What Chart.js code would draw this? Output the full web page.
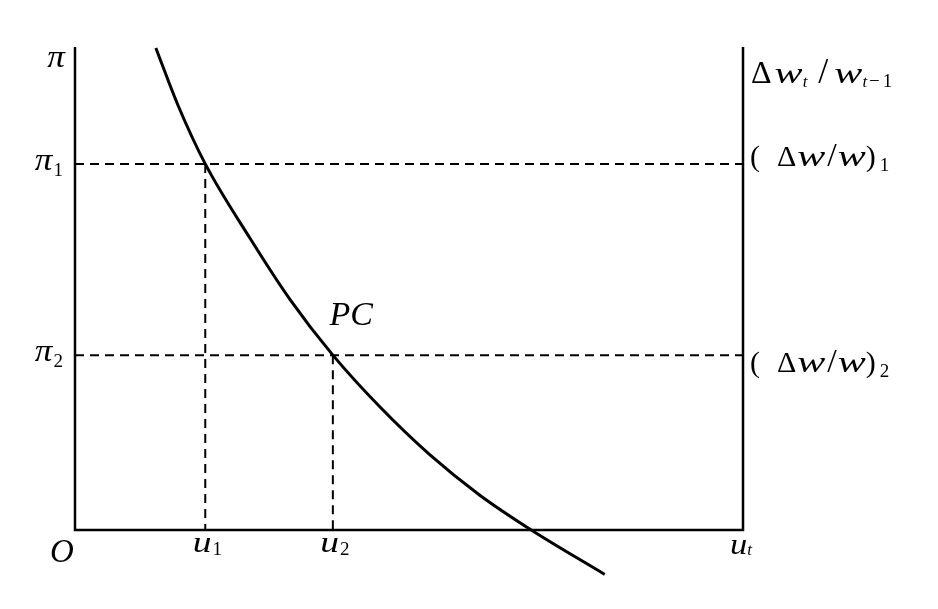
<!DOCTYPE html>
<html>
<head>
<meta charset="utf-8">
<script src="https://cdn.jsdelivr.net/npm/chart.js@4.4.1/dist/chart.umd.min.js"></script>
<style>
  html, body { margin: 0; padding: 0; background: #fff; }
  canvas { display: block; }
</style>
</head>
<body>
<canvas id="chart" width="938" height="609"></canvas>
<script>
// Phillips curve (axis units 0..100)
const curveU = [12.1, 15.4, 19.5, 26.2, 32.2, 38.6, 45.7, 53.1, 60.6, 68.3, 79.3];
const curvePi = [99.8, 88.0, 75.8, 60.4, 47.7, 36.2, 25.4, 15.6, 7.2, 0, -9.2];
const levelPi = [75.8, 36.2];   // π1, π2
const levelU = [19.5, 38.6];    // u1, u2
const axisMin = 0;
const axisMax = 100;

const SERIF = '"Liberation Serif", "DejaVu Serif", serif';
const it = (s) => `italic ${s}px ${SERIF}`;
const up = (s) => `${s}px ${SERIF}`;

const pts = (xs, ys) => xs.map((x, i) => ({ x, y: ys[i] }));

const solid = (data, width) => ({
    data, borderColor: '#000', borderWidth: width, pointRadius: 0, fill: false, tension: 0
});
const dashed = (data) => ({
    data, borderColor: '#000', borderWidth: 2, borderDash: [9, 6], pointRadius: 0, fill: false, tension: 0
});

// draw text made of runs (font, baseline shift, gap after, horizontal stretch)
const drawRuns = (ctx, x, y, runs, align) => {
    let total = 0;
    runs.forEach(r => {
        ctx.font = r.font;
        r.w = ctx.measureText(r.t).width * (r.sx || 1);
        total += r.w + (r.gap || 0);
    });
    let cx = align === 'right' ? x - total : align === 'center' ? x - total / 2 : x;
    runs.forEach(r => {
        ctx.font = r.font;
        ctx.save();
        ctx.translate(cx, y + (r.dy || 0));
        ctx.scale(r.sx || 1, 1);
        ctx.fillText(r.t, 0, 0);
        ctx.restore();
        cx += r.w + (r.gap || 0);
    });
};

const W = (gap) => ({ t: 'w', font: it(29), sx: 1.45, gap: gap || 0 });

const labelPlugin = {
    id: 'labels',
    afterDatasetsDraw(chart) {
        const ctx = chart.ctx;
        const xs = chart.scales.x, ys = chart.scales.y;
        ctx.save();
        ctx.fillStyle = '#000';
        ctx.textBaseline = 'alphabetic';

        const left = xs.getPixelForValue(axisMin);
        const right = xs.getPixelForValue(axisMax);
        const top = ys.getPixelForValue(axisMax);
        const bottom = ys.getPixelForValue(axisMin);

        // left axis
        drawRuns(ctx, left - 10, top + 20, [{ t: 'π', font: it(32), sx: 1.1 }], 'right');
        levelPi.forEach((v, i) => {
            drawRuns(ctx, left - 12, ys.getPixelForValue(v) + 6, [
                { t: 'π', font: it(32), sx: 1.1, gap: 1 },
                { t: String(i + 1), font: up(19), dy: 6 }
            ], 'right');
        });

        // bottom axis
        drawRuns(ctx, left - 25, bottom + 32, [{ t: 'O', font: it(33) }], 'left');
        levelU.forEach((v, i) => {
            drawRuns(ctx, xs.getPixelForValue(v) + 2, bottom + 22, [
                { t: 'u', font: it(30), sx: 1.25, gap: 1 },
                { t: String(i + 1), font: up(19), dy: 3 }
            ], 'center');
        });
        drawRuns(ctx, right - 13, bottom + 24, [
            { t: 'u', font: it(30), sx: 1.15 },
            { t: 't', font: it(17), dy: 1 }
        ], 'left');

        // curve label
        drawRuns(ctx, xs.getPixelForValue(38.1), ys.getPixelForValue(42.5), [{ t: 'PC', font: it(34) }], 'left');

        // right axis
        const rx = right + 8;
        drawRuns(ctx, rx, top + 36, [
            { t: 'Δ', font: up(32), gap: 3 },
            W(),
            { t: 't', font: it(17), dy: 4, gap: 11 },
            { t: '/', font: up(36), gap: 6 },
            W(),
            { t: 't', font: it(17), dy: 4, gap: 2 },
            { t: '−', font: up(19), dy: 4, gap: 3 },
            { t: '1', font: up(19), dy: 4 }
        ], 'left');
        const rightShift = [2, 17];
        levelPi.forEach((v, i) => {
            drawRuns(ctx, rx - 1, ys.getPixelForValue(v) + rightShift[i], [
                { t: '(', font: up(30), gap: 17 },
                { t: 'Δ', font: up(30), gap: 1 },
                W(2),
                { t: '/', font: up(34), gap: 1 },
                W(),
                { t: ')', font: up(30), gap: 4 },
                { t: String(i + 1), font: up(19), dy: 5 }
            ], 'left');
        });
        ctx.restore();
    }
};

const datasets = [
    // axes
    solid([{ x: axisMin, y: axisMax }, { x: axisMin, y: axisMin }, { x: axisMax, y: axisMin }, { x: axisMax, y: axisMax }], 2.5),
    // dashed guides
    ...levelPi.map(v => dashed([{ x: axisMin, y: v }, { x: axisMax, y: v }])),
    ...levelU.map((u, i) => dashed([{ x: u, y: levelPi[i] }, { x: u, y: axisMin }])),
    // Phillips curve
    {
        data: pts(curveU, curvePi), borderColor: '#000', borderWidth: 3, pointRadius: 0,
        fill: false, cubicInterpolationMode: 'monotone'
    }
];

new Chart(document.getElementById('chart'), {
    type: 'scatter',
    data: { datasets: datasets.map(d => ({ ...d, showLine: true, clip: false })) },
    options: {
        responsive: false,
        animation: false,
        layout: { padding: { left: 75, right: 195, top: 47, bottom: 79 } },
        plugins: { legend: { display: false }, tooltip: { enabled: false } },
        scales: {
            x: { type: 'linear', min: axisMin, max: axisMax, display: false },
            y: { type: 'linear', min: axisMin, max: axisMax, display: false }
        }
    },
    plugins: [labelPlugin]
});
</script>
</body>
</html>
